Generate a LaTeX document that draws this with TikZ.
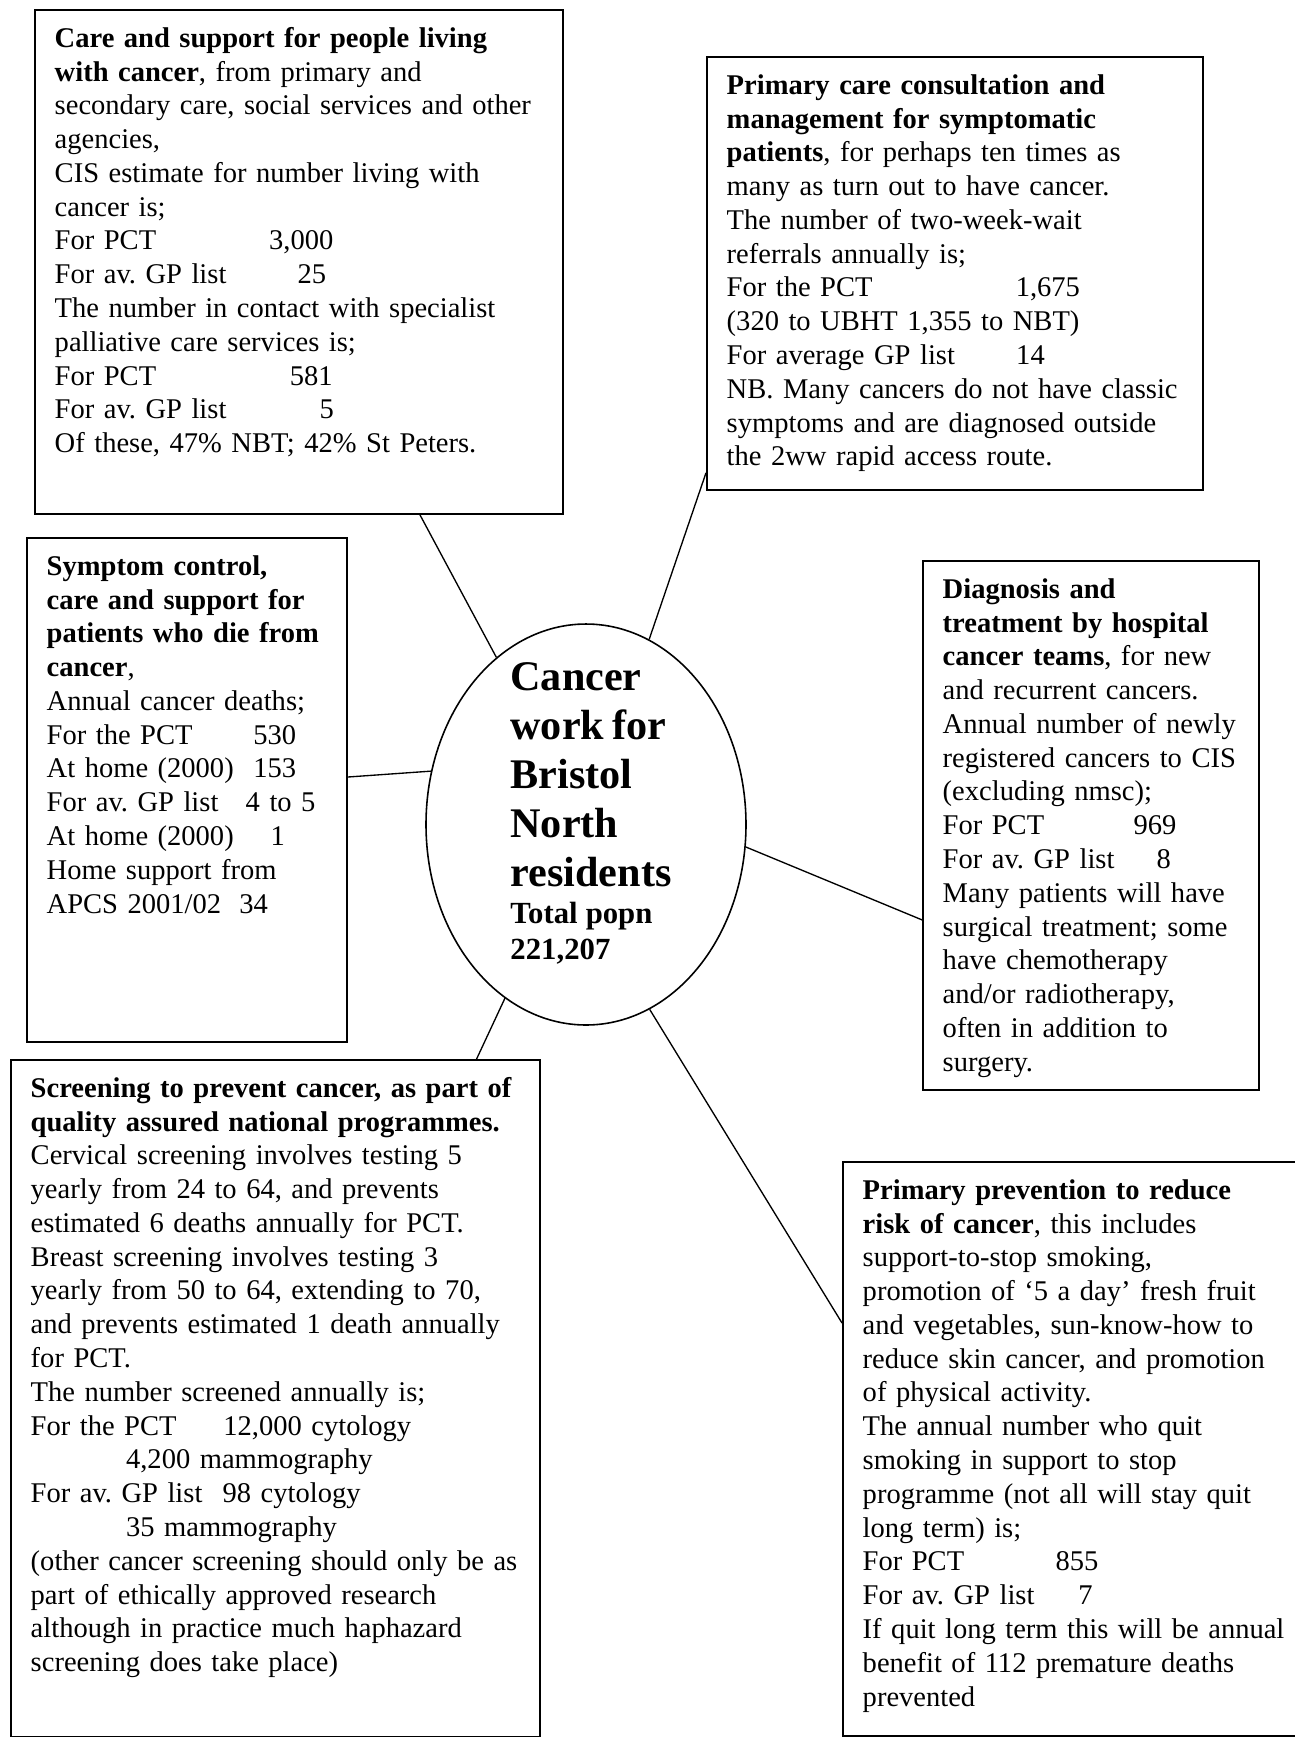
\documentclass[tikz,border=0pt]{standalone}
\usepackage{fontspec}
\setmainfont{Liberation Serif}
\usetikzlibrary{shapes.geometric}
\frenchspacing
\begin{document}
\begin{tikzpicture}[x=0.41pt,y=-0.41pt,
    panel/.style={draw,line width=0.8pt,anchor=north west,inner sep=0pt},
    blurb/.style={anchor=base west,inner sep=0pt,align=left,text width=#1,font=\fontsize{11.7}{13.85}\selectfont},
    link/.style={line width=0.55pt}]
  \useasboundingbox (0,0) rectangle (1295,1737);
  \node[draw,ellipse,line width=0.65pt,inner sep=0pt,minimum width=131.2pt,minimum height=164.4pt] (hub) at (586,824.5) {};
  \node[anchor=base west,inner sep=0pt,align=left,text width=90pt,font=\bfseries] (hubtxt) at (510,690)
    {\fontsize{17.3}{20.1}\selectfont Cancer\\work for\\Bristol\\North\\residents\par\vspace{1pt}
     \fontsize{12.6}{14.5}\selectfont Total popn\\221,207\par};
  \node[panel,minimum width=216.5pt,minimum height=206.6pt] (care) at (34,9) {};
  \node[panel,minimum width=203.4pt,minimum height=177.5pt] (prim) at (706,56) {};
  \node[panel,minimum width=131.2pt,minimum height=206.6pt] (sympt) at (26,537) {};
  \node[panel,minimum width=137.8pt,minimum height=216.9pt] (diag) at (922,560) {};
  \node[panel,minimum width=216.9pt,minimum height=277.4pt] (screen) at (10,1059) {};
  \node[panel,minimum width=191.9pt,minimum height=235.5pt] (prev) at (842,1161) {};
  \node[blurb=215pt] (caretxt) at ([shift={(8.3pt,-15.7pt)}]care.north west)
    {\textbf{Care and support for people living}\\
     \textbf{with cancer}, from primary and\\
     secondary care, social services and other\\
     agencies,\\
     CIS estimate for number living with\\
     cancer is;\\
     \makebox[87.9pt][l]{For PCT}3,000\\
     \makebox[99.6pt][l]{For av. GP list}25\\
     The number in contact with specialist\\
     palliative care services is;\\
     \makebox[96.4pt][l]{For PCT}581\\
     \makebox[108.6pt][l]{For av. GP list}5\\
     Of these, 47\% NBT; 42\% St Peters.};
  \node[blurb=205pt] (primtxt) at ([shift={(8.3pt,-15.7pt)}]prim.north west)
    {\textbf{Primary care consultation and}\\
     \textbf{management for symptomatic}\\
     \textbf{patients}, for perhaps ten times as\\
     many as turn out to have cancer.\\
     The number of two-week-wait\\
     referrals annually is;\\
     \makebox[118.5pt][l]{For the PCT}1,675\\
     (320 to UBHT 1,355 to NBT)\\
     \makebox[118.7pt][l]{For average GP list}14\\
     NB. Many cancers do not have classic\\
     symptoms and are diagnosed outside\\
     the 2ww rapid access route.};
  \node[blurb=132pt] (sympttxt) at ([shift={(8.3pt,-15.7pt)}]sympt.north west)
    {\textbf{Symptom control,}\\
     \textbf{care and support for}\\
     \textbf{patients who die from}\\
     \textbf{cancer},\\
     Annual cancer deaths;\\
     \makebox[84.7pt][l]{For the PCT}530\\
     \makebox[84.7pt][l]{At home (2000)}153\\
     \makebox[81.6pt][l]{For av. GP list}4 to 5\\
     \makebox[91.8pt][l]{At home (2000)}1\\
     Home support from\\
     \makebox[79pt][l]{APCS 2001/02}34};
  \node[blurb=138pt] (diagtxt) at ([shift={(8.3pt,-15.7pt)}]diag.north west)
    {\textbf{Diagnosis and}\\
     \textbf{treatment by hospital}\\
     \textbf{cancer teams}, for new\\
     and recurrent cancers.\\
     Annual number of newly\\
     registered cancers to CIS\\
     (excluding nmsc);\\
     \makebox[78.3pt][l]{For PCT}969\\
     \makebox[87.7pt][l]{For av. GP list}8\\
     Many patients will have\\
     surgical treatment; some\\
     have chemotherapy\\
     and/or radiotherapy,\\
     often in addition to\\
     surgery.};
  \node[blurb=216pt] (screentxt) at ([shift={(8.3pt,-15.7pt)}]screen.north west)
    {\textbf{Screening to prevent cancer, as part of}\\
     \textbf{quality assured national programmes.}\\
     Cervical screening involves testing 5\\
     yearly from 24 to 64, and prevents\\
     estimated 6 deaths annually for PCT.\\
     Breast screening involves testing 3\\
     yearly from 50 to 64, extending to 70,\\
     and prevents estimated 1 death annually\\
     for PCT.\\
     The number screened annually is;\\
     \makebox[79pt][l]{For the PCT}12,000 cytology\\
     \hspace*{39.1pt}4,200 mammography\\
     \makebox[78.7pt][l]{For av. GP list}98 cytology\\
     \hspace*{39.1pt}35 mammography\\
     (other cancer screening should only be as\\
     part of ethically approved research\\
     although in practice much haphazard\\
     screening does take place)};
  \node[blurb=190pt] (prevtxt) at ([shift={(8.3pt,-15.7pt)}]prev.north west)
    {\textbf{Primary prevention to reduce}\\
     \textbf{risk of cancer}, this includes\\
     support-to-stop smoking,\\
     promotion of ‘5 a day’ fresh fruit\\
     and vegetables, sun-know-how to\\
     reduce skin cancer, and promotion\\
     of physical activity.\\
     The annual number who quit\\
     smoking in support to stop\\
     programme (not all will stay quit\\
     long term) is;\\
     \makebox[79.1pt][l]{For PCT}855\\
     \makebox[88.4pt][l]{For av. GP list}7\\
     If quit long term this will be annual\\
     benefit of 112 premature deaths\\
     prevented};
  \draw[link] ([xshift=49.6pt]care.south) -- (hub);
  \draw[link] ([yshift=7.4pt]prim.south west) -- (hub);
  \draw[link] ([yshift=5.3pt]sympt.east) -- (hub.161);
  \draw[link] (hub.-8) -- ([yshift=-38.7pt]diag.west);
  \draw[link] (hub) -- ([xshift=-26.4pt]screen.north east);
  \draw[link] (hub.-71) -- ([yshift=-66.4pt]prev.north west);
\end{tikzpicture}
\end{document}
